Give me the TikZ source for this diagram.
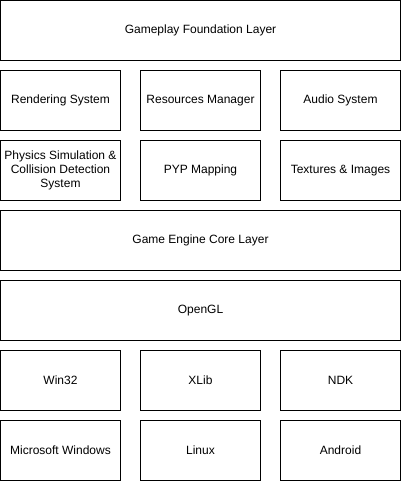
\documentclass[tikz,border=0pt]{standalone}
\usepackage{fontspec}
\setmainfont{Liberation Sans}
\begin{document}
\begin{tikzpicture}[x=0.75pt,y=-0.75pt,
  box/.style={draw, line width=0.75pt, minimum width=90pt, minimum height=45pt, inner sep=0pt, align=center, font=\fontsize{9}{10.5}\selectfont},
  wide/.style={box, minimum width=300pt}]
			\useasboundingbox (0,0) rectangle (402,482);
			
			\node [wide] (foundation) at (200.5,30.5) {Gameplay Foundation Layer};
			
			\node [box] (rendering) at (60.5,100.5) {Rendering System};
			\node [box] (resources) at (200.5,100.5) {Resources Manager};
			\node [box] (audio) at (340.5,100.5) {Audio System};
			
			\node [box] (physics) at (60.5,170.5) {Physics Simulation \&\\Collision Detection\\System};
			\node [box] (pyp) at (200.5,170.5) {PYP Mapping};
			\node [box] (textures) at (340.5,170.5) {Textures \& Images};
			
			\node [wide] (core) at (200.5,240.5) {Game Engine Core Layer};
			\node [wide] (opengl) at (200.5,310.5) {OpenGL};
			
			\node [box] (win32) at (60.5,380.5) {Win32};
			\node [box] (xlib) at (200.5,380.5) {XLib};
			\node [box] (ndk) at (340.5,380.5) {NDK};
			
			\node [box] (windows) at (60.5,450.5) {Microsoft Windows};
			\node [box] (linux) at (200.5,450.5) {Linux};
			\node [box] (android) at (340.5,450.5) {Android};
		\end{tikzpicture}
\end{document}
